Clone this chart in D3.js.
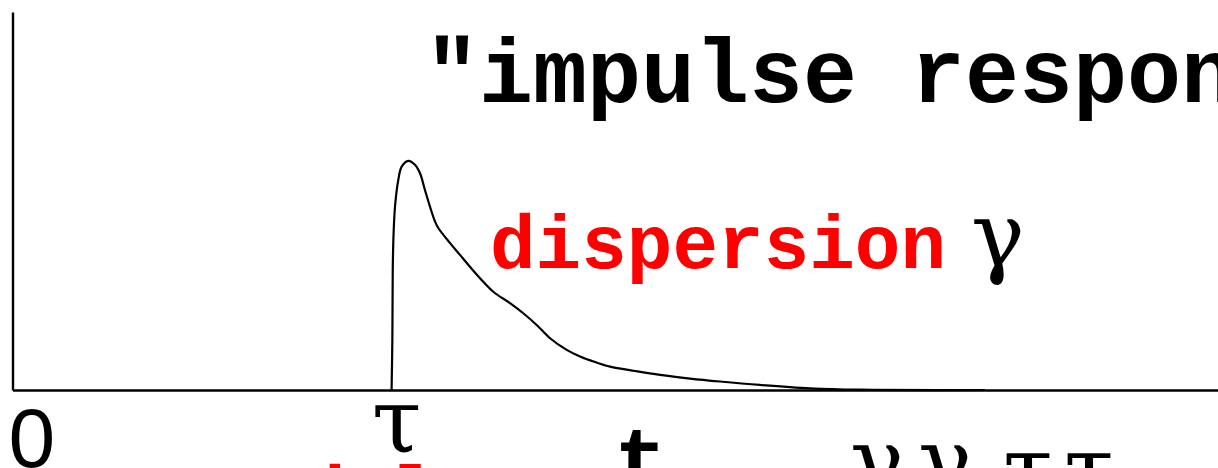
<!DOCTYPE html>
<html>
<head>
<meta charset="utf-8">
<script src="https://cdn.jsdelivr.net/npm/d3@7"></script>
<style>
  html, body { margin: 0; padding: 0; background: #fff; overflow: hidden; }
  svg { display: block; }
</style>
</head>
<body>
<svg id="chart" width="1218" height="468"></svg>
<script>
// Impulse response: zero until the delay tau, sharp rise, then a dispersed tail.
const tau = 3;
const times  = [3.000, 3.006, 3.009, 3.014, 3.027, 3.053, 3.080, 3.132, 3.185, 3.225,
                3.264, 3.304, 3.344, 3.371, 3.463, 3.541, 3.620, 3.700, 3.805, 3.937,
                4.042, 4.148, 4.254, 4.386, 4.491, 4.610, 4.729, 4.927, 5.124, 5.362,
                5.599, 5.916, 6.311, 6.707, 7.696];
const response = [0.000, 0.218, 0.511, 0.655, 0.800, 0.917, 0.975, 1.000, 0.983, 0.946,
                  0.873, 0.800, 0.735, 0.706, 0.641, 0.590, 0.538, 0.488, 0.429, 0.379,
                  0.335, 0.284, 0.226, 0.175, 0.146, 0.122, 0.102, 0.083, 0.066, 0.050,
                  0.037, 0.022, 0.0074, 0.0013, 0.000];
const tickLabels = [{ t: 0, text: "0" }, { t: tau, text: "τ" }];

const svg = d3.select("#chart");
const W = 1218, H = 468;
svg.append("rect").attr("width", W).attr("height", H).attr("fill", "#fff");

const x = d3.scaleLinear().domain([0, 9.54]).range([12.5, 1218]);
const y = d3.scaleLinear().domain([0, 1.65]).range([390, 12]);

// Bare axes: just the two domain lines
svg.append("g").attr("transform", `translate(0,${y(0)})`)
  .call(d3.axisBottom(x).tickValues([]).tickSizeOuter(0));
svg.append("g").attr("transform", `translate(${x(0)},0)`)
  .call(d3.axisLeft(y).tickValues([]).tickSizeOuter(0));
svg.selectAll(".domain").attr("stroke", "#000").attr("stroke-width", 2.4);

// Response curve
const pts = times.map((t, i) => [t, response[i]]);
svg.append("path")
  .datum(pts)
  .attr("fill", "none")
  .attr("stroke", "#000")
  .attr("stroke-width", 2.2)
  .attr("stroke-linejoin", "round")
  .attr("d", d3.line().x(d => x(d[0])).y(d => y(d[1])).curve(d3.curveCatmullRom.alpha(0.5)));

const mono = "Liberation Mono, Courier New, monospace";
const greek = "DejaVu Serif, Liberation Serif, serif";

// Axis labels under the time axis
svg.append("text")
  .attr("x", x(tickLabels[0].t) - 4).attr("y", 467)
  .attr("font-family", "Liberation Sans, Arial, sans-serif")
  .attr("font-size", 84)
  .attr("fill", "#000")
  .text(tickLabels[0].text);
svg.append("text")
  .attr("x", x(tickLabels[1].t) + 5).attr("y", 452)
  .attr("text-anchor", "middle")
  .attr("font-family", greek)
  .attr("font-size", 90)
  .attr("fill", "#000")
  .text(tickLabels[1].text);

// Title and annotations
svg.append("text")
  .attr("x", 425).attr("y", 102)
  .attr("font-family", mono).attr("font-weight", "bold").attr("font-size", 90)
  .attr("fill", "#000")
  .attr("xml:space", "preserve")
  .text('"impulse response"');

svg.append("text")
  .attr("x", 490).attr("y", 268)
  .attr("font-family", mono).attr("font-weight", "bold").attr("font-size", 76)
  .attr("fill", "#ff0000")
  .text("dispersion");

svg.append("text")
  .attr("x", 998).attr("y", 266)
  .attr("text-anchor", "middle")
  .attr("font-family", greek).attr("font-size", 90)
  .attr("fill", "#000")
  .text("γ");

// Lower line of annotation (mostly below the visible area)
svg.append("text")
  .attr("x", 300).attr("y", 519)
  .attr("font-family", mono).attr("font-weight", "bold").attr("font-size", 76)
  .attr("fill", "#ff0000")
  .text("delay");

svg.append("text")
  .attr("x", 641).attr("y", 490)
  .attr("text-anchor", "middle")
  .attr("font-family", mono).attr("font-weight", "bold").attr("font-size", 90)
  .attr("fill", "#000")
  .text("t");

const lowerGlyphs = [
  { cx: 877, base: 492, text: "γ" },
  { cx: 945, base: 492, text: "γ" },
  { cx: 1028, base: 500, text: "τ" },
  { cx: 1089, base: 500, text: "τ" }
];
svg.selectAll("text.lower").data(lowerGlyphs).join("text")
  .attr("class", "lower")
  .attr("x", d => d.cx).attr("y", d => d.base)
  .attr("text-anchor", "middle")
  .attr("font-family", greek).attr("font-size", 90)
  .attr("fill", "#000")
  .text(d => d.text);
</script>
</body>
</html>
